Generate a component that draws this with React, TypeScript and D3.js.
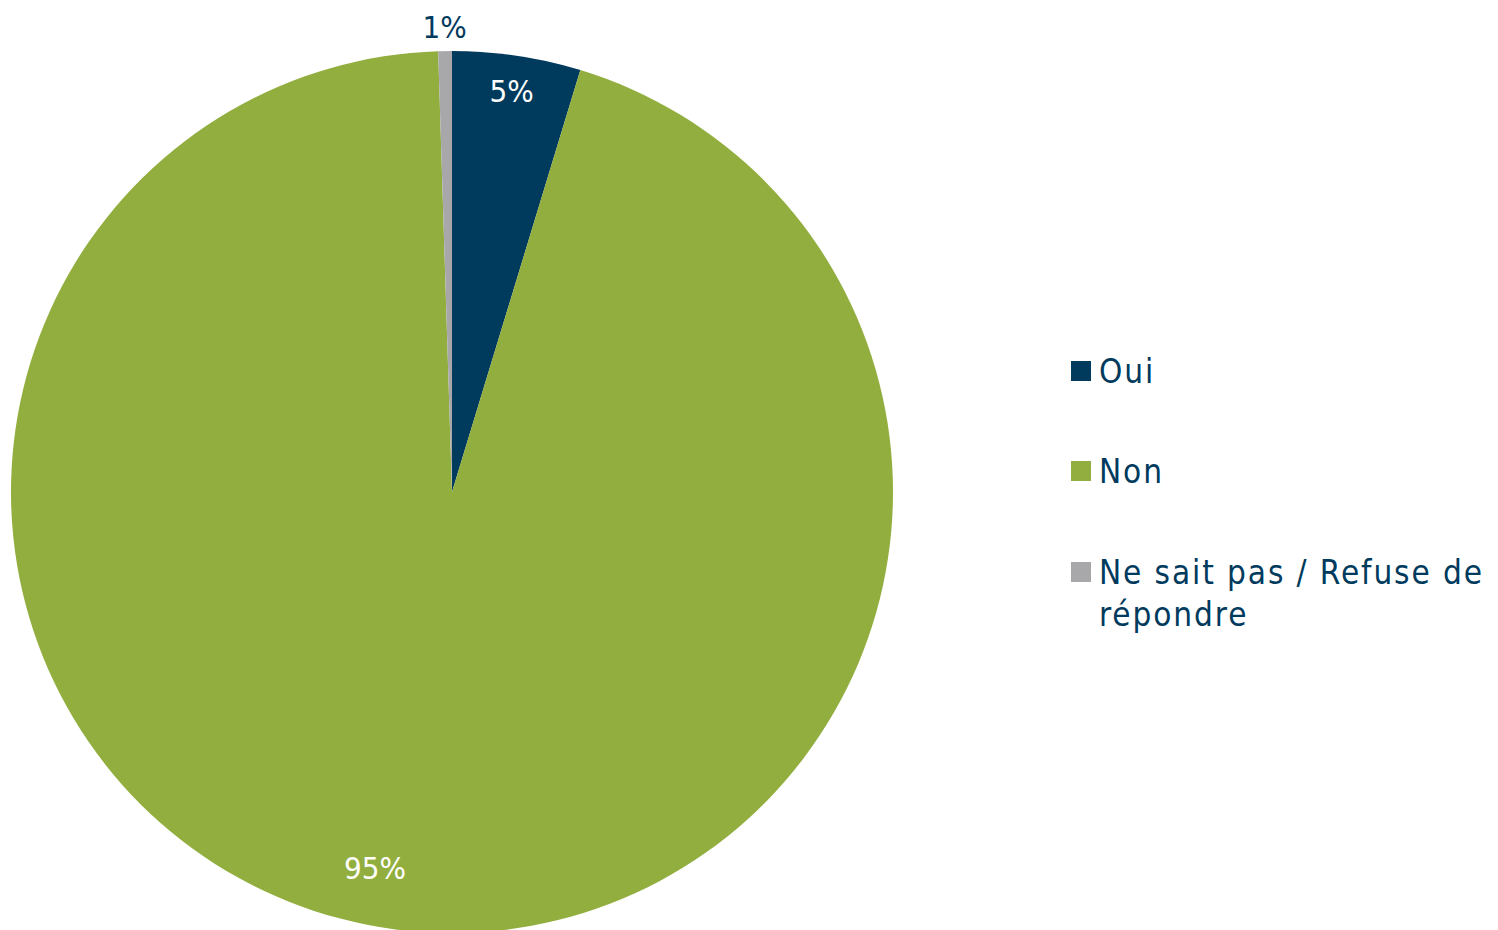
import { useEffect, useRef } from 'react';
import * as d3 from 'd3';

// Survey answers (percent)
const categories = ['Oui', 'Non', 'Ne sait pas / Refuse de répondre'];
const values = [4.7, 94.8, 0.5];
const valueLabels = ['5%', '95%', '1%'];
const colors = ['#003a5d', '#92ae3e', '#a8a8ab'];

const WIDTH = 1498;
const HEIGHT = 930;
const TEXT_NAVY = '#003a5d';
const FONT = '"DejaVu Sans Condensed", "DejaVu Sans", Verdana, sans-serif';

export default function App() {
  const svgRef = useRef<SVGSVGElement>(null);

  useEffect(() => {
    if (!svgRef.current) return;
    const svg = d3.select(svgRef.current);
    svg.selectAll('*').remove();

    const cx = 452;
    const cy = 492;
    const radius = 441;

    const data = categories.map((name, i) => ({ name, value: values[i], label: valueLabels[i], color: colors[i] }));

    const pie = d3.pie<typeof data[number]>()
      .value(d => d.value)
      .sort(null)
      .startAngle(0)
      .endAngle(2 * Math.PI);
    const arcs = pie(data);
    const arc = d3.arc<d3.PieArcDatum<typeof data[number]>>().innerRadius(0).outerRadius(radius);

    const g = svg.append('g').attr('transform', `translate(${cx},${cy})`);

    g.selectAll('path.slice')
      .data(arcs)
      .join('path')
      .attr('class', 'slice')
      .attr('d', arc)
      .attr('fill', d => d.data.color);

    // label placement: radius factor and small angular nudge (Excel "best fit" look)
    const labelRadius = [0.92, 0.87, 1.055];
    const labelNudge = [0, 0.07, 0];
    const labelFill = ['#ffffff', '#ffffff', TEXT_NAVY];

    arcs.forEach((d, i) => {
      const a = (d.startAngle + d.endAngle) / 2 + labelNudge[i];
      const r = radius * labelRadius[i];
      const x = Math.sin(a) * r;
      const y = -Math.cos(a) * r;
      g.append('text')
        .attr('x', x)
        .attr('y', y)
        .attr('dy', '0.36em')
        .attr('text-anchor', 'middle')
        .attr('font-family', FONT)
        .attr('font-size', 31)
        .attr('fill', labelFill[i])
        .text(d.data.label);
    });

    // Legend
    const legend = svg.append('g').attr('transform', 'translate(1071,0)');
    const rowY = [371, 471, 572];
    data.forEach((d, i) => {
      const row = legend.append('g').attr('transform', `translate(0,${rowY[i]})`);
      row.append('rect')
        .attr('x', 0).attr('y', -10)
        .attr('width', 20).attr('height', 20)
        .attr('fill', d.color);
      const lines = i === 2 ? ['Ne sait pas / Refuse de', 'répondre'] : [d.name];
      const t = row.append('text')
        .attr('font-family', FONT)
        .attr('font-size', 33)
        .attr('letter-spacing', 1.9)
        .attr('fill', TEXT_NAVY);
      lines.forEach((line, li) => {
        t.append('tspan')
          .attr('x', 28)
          .attr('y', li * 42)
          .attr('dy', '0.36em')
          .text(line);
      });
    });
  }, []);

  return (
    <svg
      ref={svgRef}
      width={WIDTH}
      height={HEIGHT}
      style={{ position: 'absolute', left: 0, top: 0, background: '#ffffff' }}
    />
  );
}
